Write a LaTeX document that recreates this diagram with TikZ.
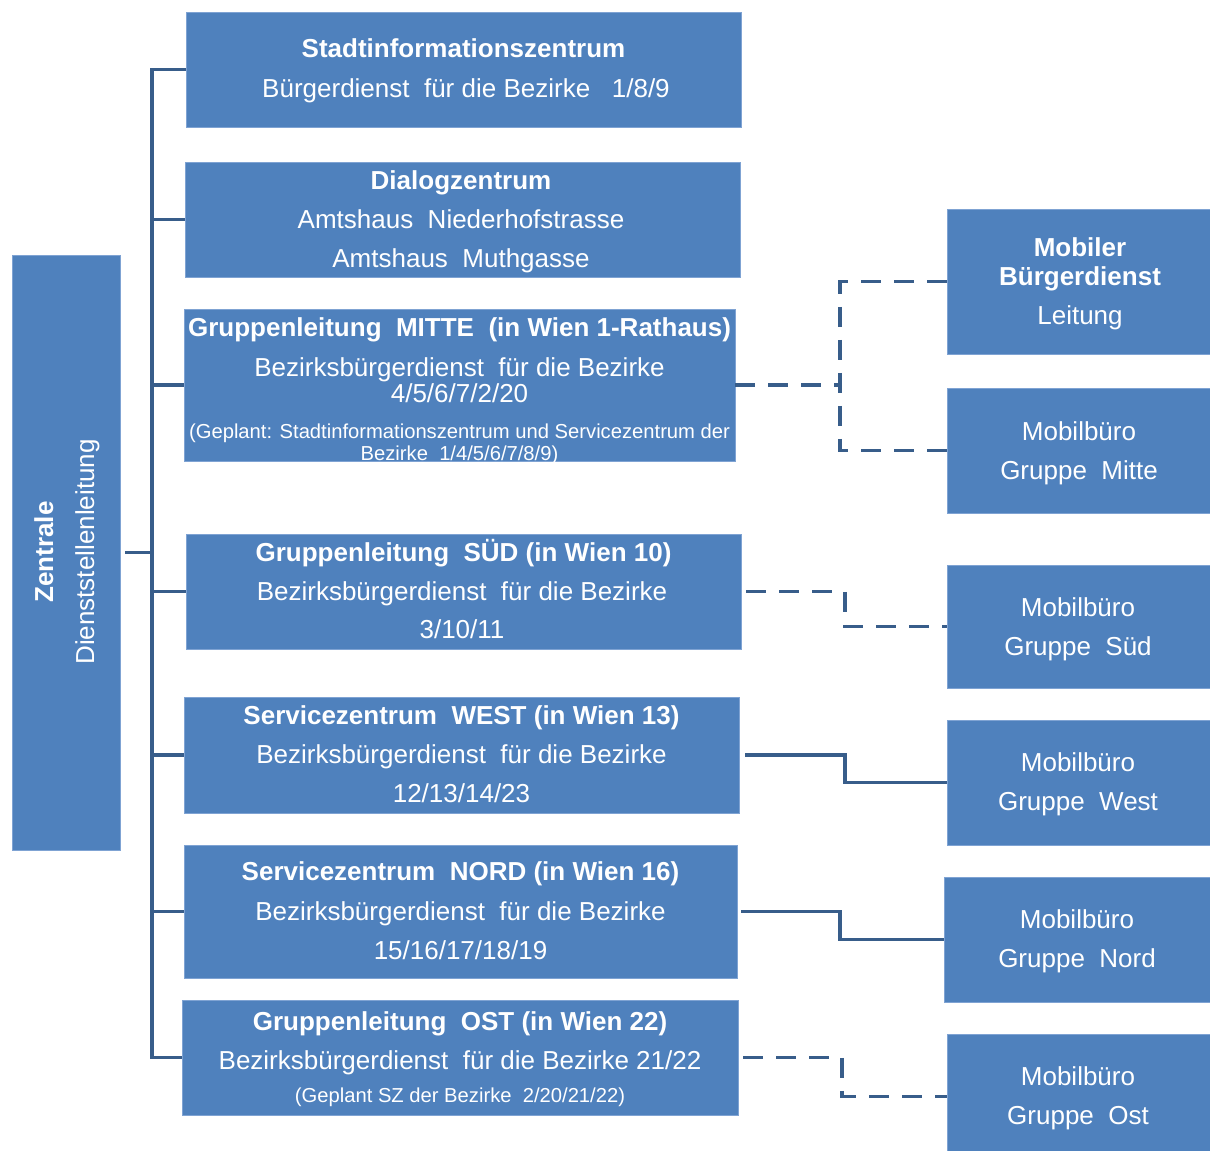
\documentclass[tikz,border=0pt]{standalone}
\usepackage{fontspec}
\setmainfont{Liberation Sans}
\definecolor{boxblue}{HTML}{4F81BD}
\definecolor{boxedge}{HTML}{7FA3D3}
\definecolor{linkblue}{HTML}{385D8A}
\tikzset{
  box/.style={fill=boxblue, draw=boxedge, line width=0.8pt, inner sep=0pt, rectangle},
  txt/.style={text=white, anchor=base, inner sep=0pt, font=\fontsize{26}{31}\selectfont},
  btxt/.style={txt, font=\fontsize{26}{31}\selectfont\bfseries},
  stxt/.style={txt, font=\fontsize{20.2}{24}\selectfont},
  sline/.style={draw=linkblue, line width=3.8pt},
  dline/.style={draw=linkblue, line width=3.8pt, dash pattern=on 20pt off 13pt},
}
\newcommand{\dsp}{\ \ }
\begin{document}
\begin{tikzpicture}[x=1pt,y=-1pt]
\useasboundingbox (0,0) rectangle (1210,1151);
\clip (0,0) rectangle (1210,1151);
\fill[white] (0,0) rectangle (1210,1151);

% left column
\node[box, minimum width=108pt, minimum height=595pt] (z) at (66,552.5) {};
\node[btxt, rotate=90] (zt1) at (53,552) {Zentrale};
\node[txt, rotate=90] (zt2) at (94,552) {Dienststellenleitung};

% middle column boxes
\node[box, minimum width=555pt, minimum height=115pt] (b1) at (463.5,69.5) {};
\node[box, minimum width=555pt, minimum height=115pt] (b2) at (462.5,219.5) {};
\node[box, minimum width=551pt, minimum height=152pt] (b3) at (459.5,385) {};
\node[box, minimum width=555pt, minimum height=115pt] (b4) at (463.5,591.5) {};
\node[box, minimum width=555pt, minimum height=116pt] (b5) at (461.5,755) {};
\node[box, minimum width=553pt, minimum height=133pt] (b6) at (460.5,911.5) {};
\node[box, minimum width=556pt, minimum height=115pt] (b7) at (460,1057.5) {};

% right column boxes
\node[box, minimum width=265pt, minimum height=145pt] (mb) at (1079.5,281.5) {};
\node[box, minimum width=265pt, minimum height=125pt] (m1) at (1079.5,450.5) {};
\node[box, minimum width=265pt, minimum height=123pt] (ms) at (1079.5,626.5) {};
\node[box, minimum width=265pt, minimum height=125pt] (mw) at (1079.5,782.5) {};
\node[box, minimum width=268pt, minimum height=125pt] (mn) at (1078,939.5) {};
\node[box, minimum width=265pt, minimum height=125pt] (mo) at (1079.5,1096.5) {};

% texts box 1
\node[btxt] (t1a) at (463.5,57) {Stadtinformationszentrum};
\node[txt] (t1b) at (466,97) {Bürgerdienst\dsp für die Bezirke\dsp\ 1/8/9};
% box 2
\node[btxt] (t2a) at (461,189) {Dialogzentrum};
\node[txt] (t2b) at (461,228) {Amtshaus\dsp Niederhofstrasse};
\node[txt] (t2c) at (461,267) {Amtshaus\dsp Muthgasse};
% box 3
\node[btxt] (t3a) at (459.5,336) {Gruppenleitung\dsp MITTE\dsp (in Wien 1-Rathaus)};
\node[txt] (t3b) at (459.5,376) {Bezirksbürgerdienst\dsp für die Bezirke};
\node[txt] (t3c) at (459.5,402) {4/5/6/7/2/20};
\node[stxt] (t3d) at (459.5,438) {(Geplant: Stadtinformationszentrum und Servicezentrum der};
\node[stxt] (t3e) at (459.5,460) {Bezirke\dsp 1/4/5/6/7/8/9)};
% box 4
\node[btxt] (t4a) at (463.5,561) {Gruppenleitung\dsp SÜD (in Wien 10)};
\node[txt] (t4b) at (462,600) {Bezirksbürgerdienst\dsp für die Bezirke};
\node[txt] (t4c) at (462,638) {3/10/11};
% box 5
\node[btxt] (t5a) at (461.5,724) {Servicezentrum\dsp WEST (in Wien 13)};
\node[txt] (t5b) at (461.5,763) {Bezirksbürgerdienst\dsp für die Bezirke};
\node[txt] (t5c) at (461.5,802) {12/13/14/23};
% box 6
\node[btxt] (t6a) at (460.5,880) {Servicezentrum\dsp NORD (in Wien 16)};
\node[txt] (t6b) at (460.5,920) {Bezirksbürgerdienst\dsp für die Bezirke};
\node[txt] (t6c) at (460.5,959) {15/16/17/18/19};
% box 7
\node[btxt] (t7a) at (460,1030) {Gruppenleitung\dsp OST (in Wien 22)};
\node[txt] (t7b) at (460,1069) {Bezirksbürgerdienst\dsp für die Bezirke 21/22};
\node[stxt] (t7c) at (460,1102) {(Geplant SZ der Bezirke\dsp 2/20/21/22)};

% right texts
\node[btxt] (r1a) at (1080,256) {Mobiler};
\node[btxt] (r1b) at (1080,285) {Bürgerdienst};
\node[txt] (r1c) at (1080,324) {Leitung};
\node[txt] (r2a) at (1079,440) {Mobilbüro};
\node[txt] (r2b) at (1079,479) {Gruppe\dsp Mitte};
\node[txt] (r3a) at (1078,616) {Mobilbüro};
\node[txt] (r3b) at (1078,655) {Gruppe\dsp Süd};
\node[txt] (r4a) at (1078,771) {Mobilbüro};
\node[txt] (r4b) at (1078,810) {Gruppe\dsp West};
\node[txt] (r5a) at (1077,928) {Mobilbüro};
\node[txt] (r5b) at (1077,967) {Gruppe\dsp Nord};
\node[txt] (r6a) at (1078,1085) {Mobilbüro};
\node[txt] (r6b) at (1078,1124) {Gruppe\dsp Ost};

% bus
\coordinate (busx) at (152,0);
\draw[sline] (b1.west) -- (b1.west -| busx) -- (b7.west -| busx) -- (b7.west);
\foreach \b in {b2,b3,b4,b5,b6} {
  \draw[sline] (\b.west) -- (\b.west -| busx);
}
\draw[sline, shorten <=5pt] (z.east) -- (z.east -| busx);

% right connectors
\coordinate (jm) at (840,385);
\draw[dline] (b3.east) -- (jm);
\draw[dline] (mb.west) -- (mb.west -| jm) -- (m1.west -| jm) -- (m1.west);

\coordinate (js) at (845,600);
\draw[dline] (b4.east) ++(5,0) -- (b4.east -| js) -- (js |- ms.west) -- (ms.west);

\coordinate (jw) at (845,770);
\draw[sline] (b5.east) ++(6,0) -- (b5.east -| jw) -- (jw |- mw.west) -- (mw.west);

\coordinate (jn) at (840,925);
\draw[sline] (b6.east) ++(4,0) -- (b6.east -| jn) -- (jn |- mn.west) -- (mn.west);

\coordinate (jo) at (842,1075);
\draw[dline] (b7.east) ++(5,0) -- (b7.east -| jo) -- (jo |- mo.west) -- (mo.west);
\end{tikzpicture}
\end{document}
